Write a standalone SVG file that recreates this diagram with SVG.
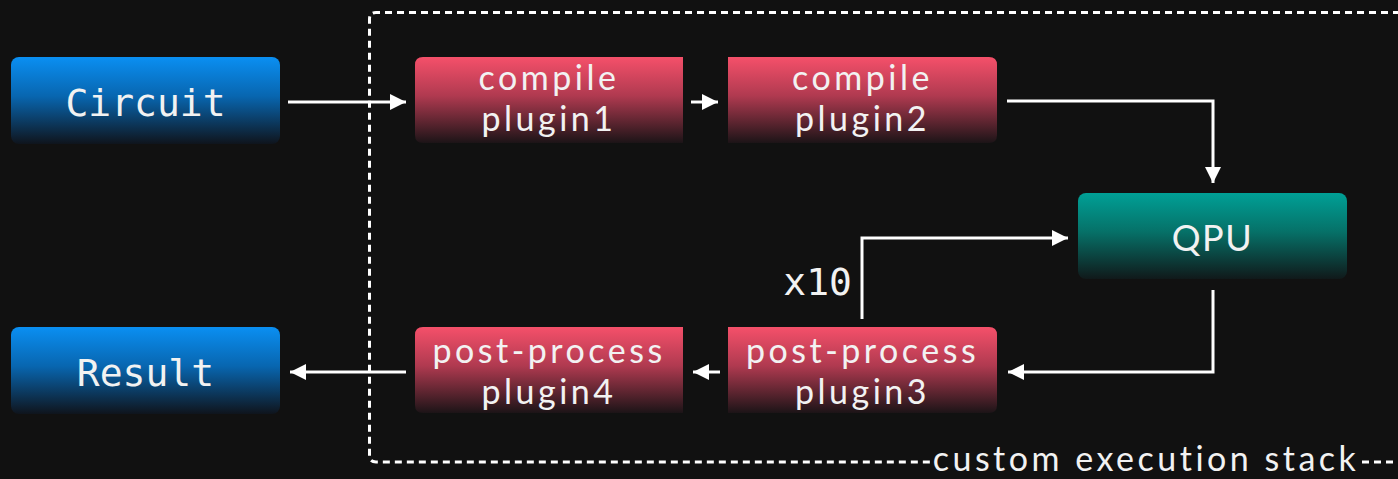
<svg xmlns="http://www.w3.org/2000/svg" width="1398" height="479" viewBox="0 0 1398 479">
  <defs>
    <linearGradient id="gBlue" x1="0" y1="0" x2="0" y2="1">
      <stop offset="0" stop-color="#0a8ff2"/>
      <stop offset="0.45" stop-color="#0866b0"/>
      <stop offset="1" stop-color="#0f141c"/>
    </linearGradient>
    <linearGradient id="gRed" x1="0" y1="0" x2="0" y2="1">
      <stop offset="0" stop-color="#f5506a"/>
      <stop offset="0.45" stop-color="#b03a50"/>
      <stop offset="1" stop-color="#1c1417"/>
    </linearGradient>
    <linearGradient id="gTeal" x1="0" y1="0" x2="0" y2="1">
      <stop offset="0" stop-color="#00a096"/>
      <stop offset="0.45" stop-color="#067168"/>
      <stop offset="1" stop-color="#10191a"/>
    </linearGradient>
    <marker id="arrow" viewBox="0 0 16 16" refX="16" refY="8" markerWidth="16" markerHeight="16" markerUnits="userSpaceOnUse" orient="auto">
      <path d="M0,0 L16,8 L0,16 Z" fill="#ffffff"/>
    </marker>
    <style>
      .mono { font-family: "DejaVu Sans Mono", "Liberation Mono", monospace; font-size: 38px; fill: #f2f2f2; }
      .sans { font-family: Lato, "Open Sans", sans-serif; font-size: 34px; fill: #f2f2f2; letter-spacing: 3.5px; }
      .link { fill: none; stroke: #ffffff; stroke-width: 3; marker-end: url(#arrow); }
      .frame { fill: none; stroke: #ffffff; stroke-width: 3; stroke-dasharray: 7 5; }
    </style>
  </defs>

  <rect width="1398" height="479" fill="#111111"/>

  <!-- dashed boundary of the execution stack -->
  <g id="stack-frame">
    <path class="frame" d="M1400,12.5 H376 Q369.5,12.5 369.5,19 V456 Q369.5,462 376,462 H930"/>
    <path class="frame" d="M1362,462 H1400"/>
    <text class="sans" x="1146" y="471" text-anchor="middle">custom execution stack</text>
  </g>

  <g id="circuit">
    <rect x="11" y="57" width="269" height="87" rx="8" fill="url(#gBlue)"/>
    <text class="mono" x="145.5" y="116" text-anchor="middle">Circuit</text>
  </g>

  <g id="compile-plugin1">
    <path d="M423,57 H683 V143 H423 Q415,143 415,135 V65 Q415,57 423,57 Z" fill="url(#gRed)"/>
    <text class="sans" x="549" y="90" text-anchor="middle">compile</text>
    <text class="sans" x="549" y="131" text-anchor="middle">plugin1</text>
  </g>

  <g id="compile-plugin2">
    <path d="M728,57 H989 Q997,57 997,65 V135 Q997,143 989,143 H728 Z" fill="url(#gRed)"/>
    <text class="sans" x="862.5" y="90" text-anchor="middle">compile</text>
    <text class="sans" x="862.5" y="131" text-anchor="middle">plugin2</text>
  </g>

  <g id="qpu">
    <rect x="1078" y="193" width="269" height="86" rx="8" fill="url(#gTeal)"/>
    <text class="sans" x="1212.5" y="251" text-anchor="middle" style="font-size:36px;letter-spacing:1.5px">QPU</text>
  </g>

  <g id="post-process-plugin3">
    <path d="M728,327 H989 Q997,327 997,335 V405 Q997,413 989,413 H728 Z" fill="url(#gRed)"/>
    <text class="sans" x="862.5" y="363" text-anchor="middle">post-process</text>
    <text class="sans" x="862.5" y="404" text-anchor="middle">plugin3</text>
  </g>

  <g id="post-process-plugin4">
    <path d="M423,327 H683 V413 H423 Q415,413 415,405 V335 Q415,327 423,327 Z" fill="url(#gRed)"/>
    <text class="sans" x="549" y="363" text-anchor="middle">post-process</text>
    <text class="sans" x="549" y="404" text-anchor="middle">plugin4</text>
  </g>

  <g id="result">
    <rect x="11" y="327" width="269" height="87" rx="8" fill="url(#gBlue)"/>
    <text class="mono" x="145.5" y="386" text-anchor="middle">Result</text>
  </g>

  <g id="connectors">
    <path class="link" d="M288,102 H406"/>
    <path class="link" d="M691,102 H718"/>
    <path class="link" d="M1007,101 H1213 V183"/>
    <path class="link" d="M1213,290 V372 H1008"/>
    <path class="link" d="M862,319 V238 H1068"/>
    <path class="link" d="M720,372 H693"/>
    <path class="link" d="M406,372 H290"/>
    <text class="mono" x="852" y="295" text-anchor="end">x10</text>
  </g>
</svg>
